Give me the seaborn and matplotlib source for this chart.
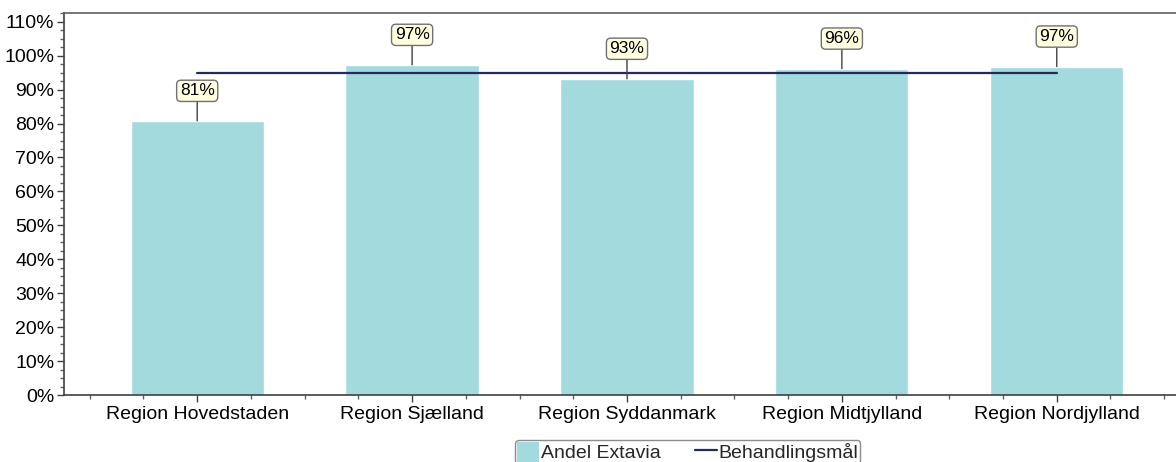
import matplotlib
matplotlib.use("Agg")
import matplotlib.pyplot as plt
import seaborn as sns
from matplotlib.ticker import PercentFormatter, MultipleLocator
from matplotlib.patches import Patch
from matplotlib.lines import Line2D

regioner = ["Region Hovedstaden", "Region Sjælland", "Region Syddanmark",
            "Region Midtjylland", "Region Nordjylland"]
andel_extavia = [0.808, 0.973, 0.932, 0.962, 0.968]
label_tekst = ["81%", "97%", "93%", "96%", "97%"]
behandlingsmaal = [0.95, 0.95, 0.95, 0.95, 0.95]

bar_farve = "#A2DADD"
linje_farve = "#232B5C"

sns.set_theme(style="white")
plt.rcParams["font.family"] = ["Liberation Sans", "DejaVu Sans"]

fig = plt.figure(figsize=(11.76, 4.62), dpi=100)
ax = fig.add_axes([0.0544, 0.145, 0.9575, 0.827])

sns.barplot(x=regioner, y=andel_extavia, color=bar_farve, width=0.62,
            saturation=1, ax=ax)
ax.plot(range(len(regioner)), behandlingsmaal, color=linje_farve, lw=1.6, zorder=3)

# value labels with leader lines
for i, (v, t) in enumerate(zip(andel_extavia, label_tekst)):
    ax.annotate(t, xy=(i, v), xytext=(0, 30), textcoords="offset pixels",
                ha="center", va="center", fontsize=12.5, color="black",
                bbox=dict(boxstyle="round,pad=0.18,rounding_size=0.25",
                          fc="#FFFFE0", ec="#707070", lw=1),
                arrowprops=dict(arrowstyle="-", color="#404040", lw=1,
                                shrinkA=0, shrinkB=0),
                zorder=5)

ax.set_xlim(-0.62, 4.62)
ax.set_ylim(0, 1.126)
ax.yaxis.set_major_locator(MultipleLocator(0.1))
ax.yaxis.set_minor_locator(MultipleLocator(0.025))
ax.yaxis.set_major_formatter(PercentFormatter(1.0, decimals=0))
ax.xaxis.set_minor_locator(MultipleLocator(0.25))

ax.tick_params(axis="both", which="major", direction="out", length=5,
               width=1, color="#404040", labelsize=14, labelcolor="black",
               left=True, bottom=True, pad=2)
ax.tick_params(axis="both", which="minor", direction="out", length=3,
               width=1, color="#606060", left=True, bottom=True)
ax.tick_params(axis="x", which="major", pad=3)

for side in ["left", "bottom", "top", "right"]:
    ax.spines[side].set_color("#404040")
    ax.spines[side].set_linewidth(1.2)
ax.spines["top"].set_color("#606060")
ax.set_xlabel("")
ax.set_ylabel("")

handles = [Patch(facecolor=bar_farve, edgecolor="none"),
           Line2D([0], [0], color=linje_farve, lw=1.6)]
fig.legend(handles, ["Andel Extavia", "Behandlingsmål"], loc="upper center",
           bbox_to_anchor=(0.585, 0.048), ncol=2, frameon=True, fontsize=14,
           fancybox=True, edgecolor="#707070", handlelength=1.1, handleheight=1.2,
           handletextpad=0.1, columnspacing=1.8, borderpad=0.1, borderaxespad=0)

fig.savefig("out.png", dpi=100, facecolor="white")
